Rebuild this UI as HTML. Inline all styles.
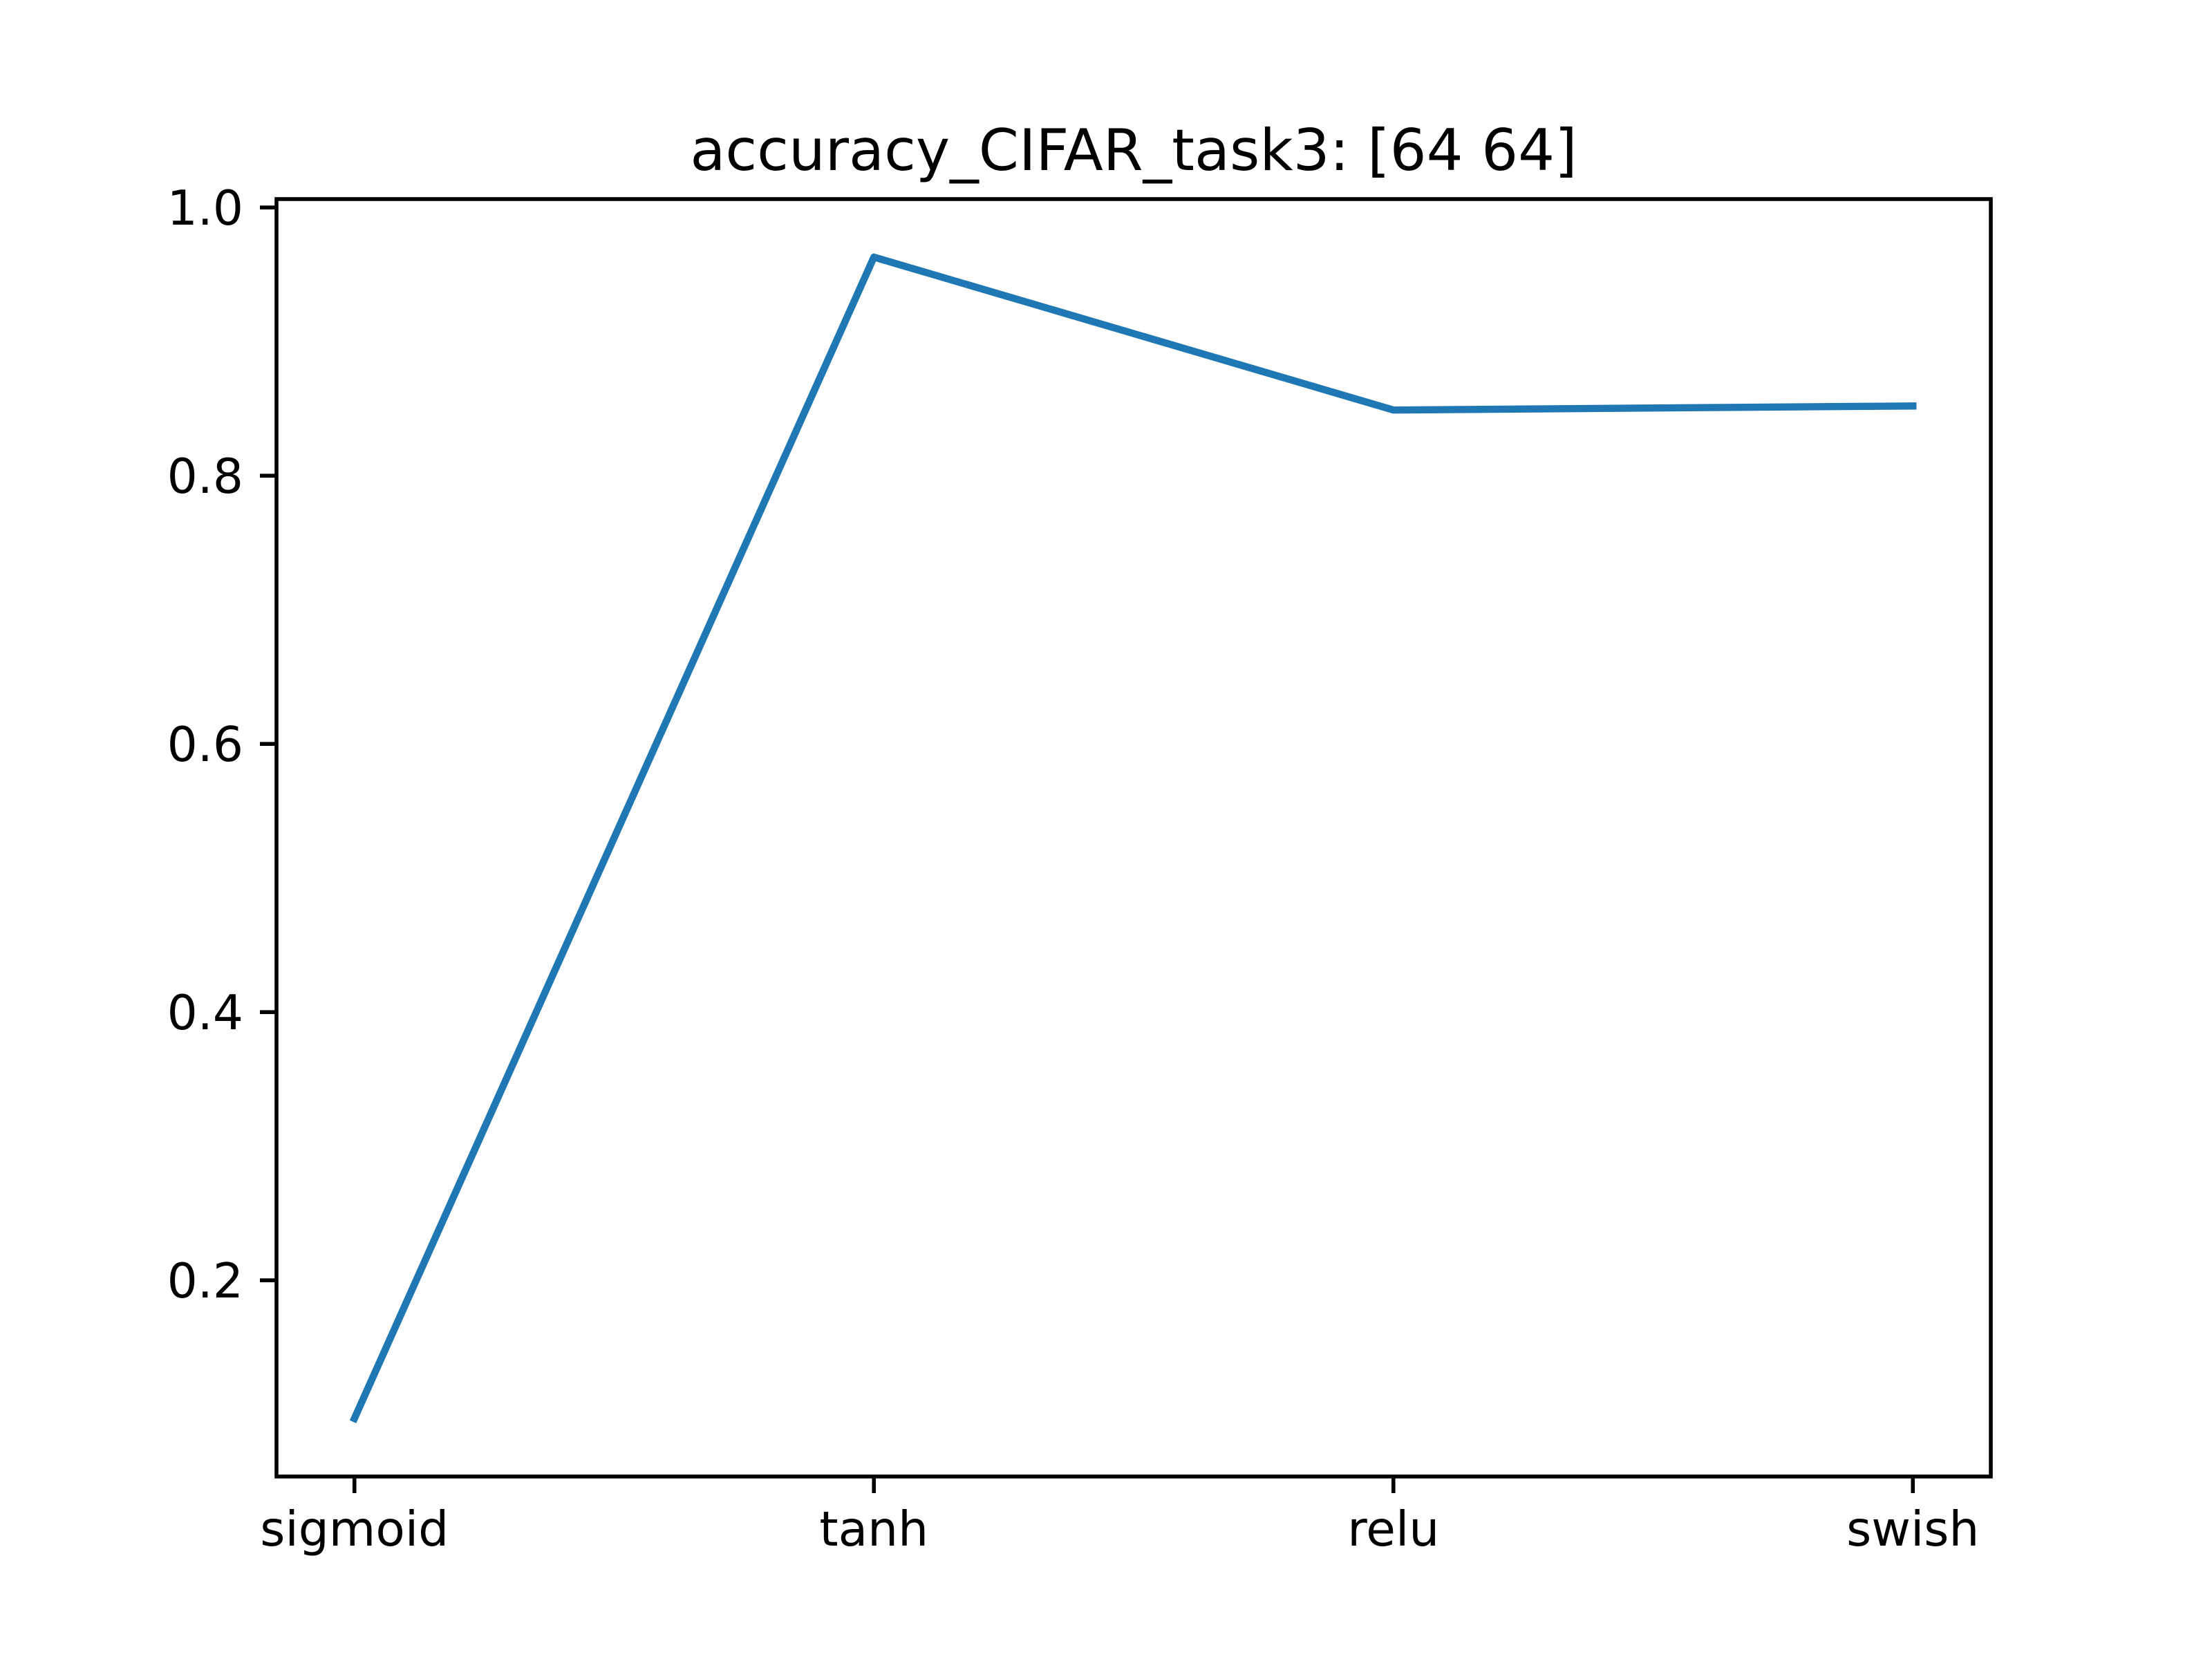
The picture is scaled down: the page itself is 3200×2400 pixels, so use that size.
<!DOCTYPE html>
<html><head><meta charset="utf-8">
<style>
html,body{margin:0;padding:0;background:#fff;}
svg{display:block;}
text{font-family:"DejaVu Sans","Liberation Sans",sans-serif;fill:#000;}
</style></head>
<body>
<svg id="chart" width="3200" height="2400" viewBox="0 0 3200 2400" xmlns="http://www.w3.org/2000/svg">
<rect width="3200" height="2400" fill="#fff"/>
<text x="1640" y="246" font-size="83.3" text-anchor="middle">accuracy_CIFAR_task3: [64 64]</text>
<g id="plot"></g>
</svg>
<script>
const categories = ["sigmoid", "tanh", "relu", "swish"];
const accuracyValues = [0.097, 0.963, 0.849, 0.852];
const yTickValues = [0.2, 0.4, 0.6, 0.8, 1.0];
const yTickLabels = ["0.2", "0.4", "0.6", "0.8", "1.0"];

const NS = "http://www.w3.org/2000/svg";
const L = 400, R = 2880, T = 288, B = 2136;
const n = categories.length;
const xmin = -0.05 * (n - 1), xmax = (n - 1) * 1.05;
const dmin = Math.min(...accuracyValues), dmax = Math.max(...accuracyValues);
const pad = (dmax - dmin) * 0.05;
const ymin = dmin - pad, ymax = dmax + pad;
const xs = i => L + (i - xmin) / (xmax - xmin) * (R - L);
const ys = v => B - (v - ymin) / (ymax - ymin) * (B - T);
const g = document.getElementById("plot");
function mk(tag, attrs) {
  const e = document.createElementNS(NS, tag);
  for (const k in attrs) e.setAttribute(k, attrs[k]);
  g.appendChild(e);
  return e;
}
const pts = accuracyValues.map((v, i) => xs(i) + "," + ys(v)).join(" ");
const line = mk("polyline", {points: pts, fill: "none", stroke: "#1f77b4", "stroke-width": 10.4, "stroke-linecap": "square", "stroke-linejoin": "round"});


const frame = mk("rect", {x: L, y: T, width: R - L, height: B - T, fill: "none", stroke: "#000", "stroke-width": 5.6});


categories.forEach((c, i) => {
  const x = xs(i);
  const t = mk("line", {x1: x, x2: x, y1: B, y2: B + 24, stroke: "#000", "stroke-width": 5.6});
  
  
  const lb = mk("text", {x: x, y: B + 100, "font-size": 69.4, "text-anchor": "middle"});
  lb.textContent = c;
  
  
});
yTickValues.forEach((v, i) => {
  const y = ys(v);
  const t = mk("line", {x1: L - 24, x2: L, y1: y, y2: y, stroke: "#000", "stroke-width": 5.6});
  
  
  const lb = mk("text", {x: L - 48, y: y + 25, "font-size": 69.4, "text-anchor": "end"});
  lb.textContent = yTickLabels[i];
  
  
});
</script>
</body></html>
